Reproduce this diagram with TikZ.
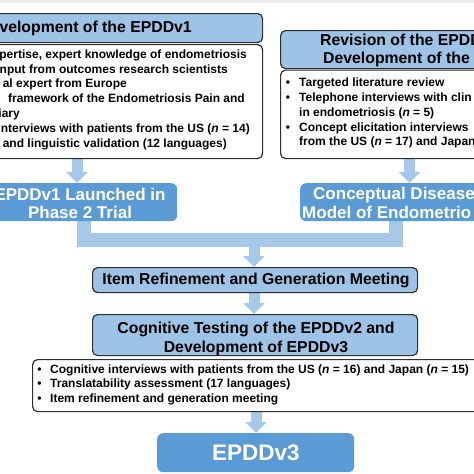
\documentclass[tikz,border=0pt]{standalone}
\usepackage{fontspec}
\setmainfont{Liberation Sans}
\usetikzlibrary{arrows.meta}
\definecolor{hdrblue}{HTML}{9DC3E6}
\definecolor{midblue}{HTML}{5B9BD5}
\definecolor{arrblue}{HTML}{A6C9EA}
\definecolor{edgegray}{HTML}{2E2E2E}
\pgfdeclarelayer{bg}
\pgfsetlayers{bg,main}
\begin{document}
\begin{tikzpicture}[x=1pt,y=-1pt,
 box/.style={draw=edgegray, line width=1.2pt, rounded corners=5pt, inner sep=0pt, anchor=north west},
 hdrbox/.style={box, fill=hdrblue},
 txtbox/.style={box, fill=white},
 midbox/.style={fill=midblue, rounded corners=6pt, inner sep=0pt, anchor=north west},
 body/.style={font=\fontsize{12}{14}\bfseries\selectfont, inner sep=0pt},
 head/.style={font=\fontsize{15.8}{18}\bfseries\selectfont, inner sep=0pt},
 big/.style={font=\fontsize{17}{20}\bfseries\selectfont, text=white, inner sep=0pt},
 huge/.style={font=\fontsize{22.5}{26}\bfseries\selectfont, text=white, inner sep=0pt},
 flow/.style={draw=arrblue, line width=11pt, -{Triangle[width=21pt,length=11pt]}},
 bus/.style={draw=arrblue, line width=14pt, line join=miter},
]
\useasboundingbox (0,0) rectangle (474,474);
\clip (0,0) rectangle (474,474);
\fill[black!7] (0,0) rectangle (474,3);

% boxes
\node[hdrbox, minimum width=352pt, minimum height=29pt] (h1) at (-90,13) {};
\node[txtbox, minimum width=352pt, minimum height=114pt] (c1) at (-90,44) {};
\node[hdrbox, minimum width=300pt, minimum height=38pt] (h2) at (280,30) {};
\node[txtbox, minimum width=300pt, minimum height=88.5pt] (c2) at (280,69.5) {};
\node[midbox, minimum width=190pt, minimum height=38pt] (launch) at (-13,183) {};
\node[midbox, minimum width=280pt, minimum height=38pt] (concept) at (300,183) {};
\node[hdrbox, minimum width=325pt, minimum height=25pt] (item) at (92,267) {};
\node[hdrbox, minimum width=325pt, minimum height=41pt] (cog) at (92,314) {};
\node[txtbox, minimum width=500pt, minimum height=52pt] (c3) at (32,359) {};
\node[midbox, minimum width=197pt, minimum height=39pt] (final) at (157,433) {};

% connectors
\coordinate (a1) at (77,0);
\coordinate (a2) at (409.5,0);
\coordinate (bl) at (83.5,240);
\coordinate (br) at (395.5,240);
\coordinate (bm) at (254,240);
\coordinate (a5) at (256,0);
\begin{pgfonlayer}{bg}
\draw[flow] (c1.south -| a1) -- (launch.north -| a1);
\draw[flow] (c2.south -| a2) -- (concept.north -| a2);
\draw[bus] (launch.south -| bl) -- (bl) -- (br) -- (concept.south -| br);
\draw[flow] (bm) -- (item.north -| bm);
\draw[flow] (item.south -| bm) -- (cog.north -| bm);
\draw[flow] (c3.south -| a5) -- (final.north -| a5);
\end{pgfonlayer}

% top-left texts
\node[head, anchor=base east] (t1) at (192,32.5) {velopment of the EPDDv1};
\node[body, anchor=base east] (l1) at (247,58.2) {pertise, expert knowledge of endometriosis};
\node[body, anchor=base east] (l2) at (228,73.2) {nput from outcomes research scientists};
\node[body, anchor=base east] (l3) at (127,87.2) {al expert from Europe};
\node[body, anchor=base east] (l4) at (245,102.2) {framework of the Endometriosis Pain and};
\node[body, anchor=base east] (l5) at (20,117.2) {iary};
\node[body, anchor=base east] (l6) at (250,132.2) {nterviews with patients from the US (\textit{n} = 14)};
\node[body, anchor=base east] (l7) at (227,147.2) {and linguistic validation (12 languages)};

% top-right texts
\node[head, anchor=base west] (t2a) at (320,45.5) {Revision of the EPDD};
\node[head, anchor=base west] (t2b) at (323,63.5) {Development of the};
\node[body, anchor=base] (b1) at (288,86.2) {•};
\node[body, anchor=base west] (r1) at (299,86.2) {Targeted literature review};
\node[body, anchor=base] (b2) at (288,101.2) {•};
\node[body, anchor=base west] (r2) at (299,101.2) {Telephone interviews with clin};
\node[body, anchor=base west] (r3) at (299,116.2) {in endometriosis (\textit{n} = 5)};
\node[body, anchor=base] (b4) at (288,131.2) {•};
\node[body, anchor=base west] (r4) at (299,131.2) {Concept elicitation interviews};
\node[body, anchor=base west] (r5) at (299,145.2) {from the US (\textit{n} = 17) and Japan};

% mid boxes texts
\node[big, anchor=base] (m1) at (80,200.8) {EPDDv1 Launched in};
\node[big, anchor=base] (m2) at (80,218.8) {Phase 2 Trial};
\node[big, anchor=base west] (m3) at (313,199) {Conceptual Disease};
\node[big, anchor=base west] (m4) at (302,218) {Model of Endometrio};

\node[head, anchor=base] (it) at (256,284.5) {Item Refinement and Generation Meeting};
\node[head, anchor=base] (cg1) at (256,333.5) {Cognitive Testing of the EPDDv2 and};
\node[head, anchor=base] (cg2) at (256,352.5) {Development of EPDDv3};

% bottom list
\node[body, anchor=base] (bb1) at (39.5,373.2) {•};
\node[body, anchor=base west] (s1) at (50,373.2) {Cognitive interviews with patients from the US (\textit{n} = 16) and Japan (\textit{n} = 15)};
\node[body, anchor=base] (bb2) at (39.5,387.2) {•};
\node[body, anchor=base west] (s2) at (50,387.2) {Translatability assessment (17 languages)};
\node[body, anchor=base] (bb3) at (39.5,402.2) {•};
\node[body, anchor=base west] (s3) at (50,402.2) {Item refinement and generation meeting};

\node[huge, anchor=base] (fin) at (256,460) {EPDDv3};
\end{tikzpicture}
\end{document}
